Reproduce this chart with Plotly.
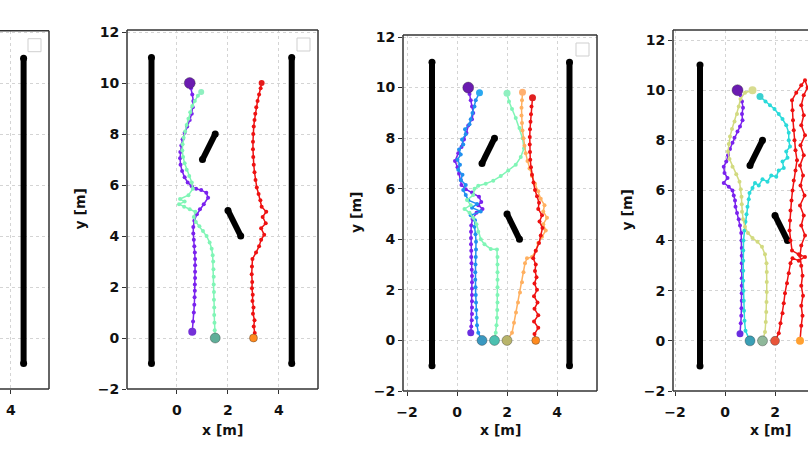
import plotly.graph_objects as go

W, H = 808, 455

# ---------------- environment (shared by all panels) ----------------
wall_left_x = [-1.0, -1.0]
wall_right_x = [4.5, 4.5]
wall_y = [-1.0, 11.0]
obs1_x = [1.0, 1.5]
obs1_y = [7.0, 8.0]
obs2_x = [2.0, 2.5]
obs2_y = [5.0, 4.0]

# ---------------- panel 1 (3 agents) ----------------
p1_purple_x = [0.50, 0.55, 0.60, 0.64, 0.62, 0.58, 0.50, 0.40, 0.30, 0.22, 0.17, 0.13, 0.12, 0.14, 0.20,
               0.30, 0.42, 0.58, 0.75, 0.95, 1.15, 1.22, 1.05, 0.90, 0.78, 0.68, 0.64, 0.64, 0.66, 0.68,
               0.70, 0.71, 0.71, 0.71, 0.71, 0.70, 0.70, 0.69, 0.68, 0.66, 0.63, 0.60]
p1_purple_y = [10.0, 9.8, 9.55, 9.3, 9.05, 8.8, 8.55, 8.3, 8.05, 7.8, 7.55, 7.3, 7.05, 6.8, 6.55,
               6.3, 6.1, 5.95, 5.85, 5.8, 5.7, 5.5, 5.25, 5.05, 4.85, 4.6, 4.35, 4.1, 3.85, 3.6,
               3.35, 3.1, 2.85, 2.6, 2.35, 2.1, 1.85, 1.6, 1.3, 1.0, 0.65, 0.25]
p1_aqua_x = [1.50, 1.48, 1.47, 1.46, 1.46, 1.45, 1.45, 1.44, 1.44, 1.43, 1.42, 1.40, 1.36, 1.28, 1.16,
             1.02, 0.88, 0.74, 0.66, 0.72, 0.50, 0.28, 0.08, 0.30, 0.12, 0.45, 0.62, 0.58, 0.48, 0.38,
             0.30, 0.24, 0.21, 0.22, 0.26, 0.32, 0.38, 0.45, 0.52, 0.60, 0.70, 0.82, 0.95]
p1_aqua_y = [0.0, 0.3, 0.6, 0.9, 1.2, 1.5, 1.8, 2.1, 2.4, 2.7, 3.0, 3.25, 3.5, 3.75, 4.0,
             4.2, 4.38, 4.55, 4.75, 4.95, 5.05, 5.15, 5.25, 5.35, 5.45, 5.6, 5.85, 6.1, 6.35, 6.6,
             6.85, 7.1, 7.35, 7.6, 7.85, 8.1, 8.35, 8.6, 8.85, 9.1, 9.3, 9.5, 9.65]
p1_red_x = [3.00, 3.05, 3.01, 3.04, 2.98, 3.00, 2.96, 2.97, 2.94, 2.95, 2.93, 2.94, 2.96, 3.10, 3.22,
            3.30, 3.42, 3.30, 3.48, 3.36, 3.50, 3.32, 3.27, 3.20, 3.13, 3.08, 3.04, 3.01, 2.99, 2.98,
            2.98, 2.99, 3.01, 3.04, 3.07, 3.11, 3.16, 3.22, 3.28, 3.32]
p1_red_y = [0.0, 0.2, 0.45, 0.7, 0.95, 1.2, 1.45, 1.7, 1.95, 2.2, 2.5, 2.8, 3.1, 3.35, 3.6,
            3.85, 4.05, 4.3, 4.5, 4.75, 4.95, 5.15, 5.4, 5.65, 5.9, 6.2, 6.5, 6.8, 7.1, 7.4,
            7.7, 8.0, 8.3, 8.55, 8.8, 9.05, 9.3, 9.55, 9.8, 10.0]

# ---------------- panel 2 (5 agents) ----------------
p2_purple_x = [0.45, 0.50, 0.55, 0.60, 0.65, 0.60, 0.45, 0.38, 0.28, 0.18, 0.05, -0.08, 0.02, 0.08, 0.15,
               0.18, 0.35, 0.60, 0.88, 0.97, 0.85, 1.02, 0.78, 0.62, 0.57, 0.56, 0.56, 0.56, 0.57, 0.57,
               0.58, 0.59, 0.60, 0.60, 0.60, 0.60, 0.60, 0.60, 0.60, 0.59, 0.57, 0.55]
p2_purple_y = [10.0, 9.75, 9.5, 9.25, 9.0, 8.75, 8.5, 8.2, 7.95, 7.65, 7.4, 7.1, 6.85, 6.6, 6.35,
               6.15, 5.98, 5.85, 5.68, 5.48, 5.35, 5.2, 5.05, 4.8, 4.55, 4.3, 4.05, 3.8, 3.55, 3.3,
               3.05, 2.8, 2.55, 2.3, 2.05, 1.8, 1.55, 1.3, 1.05, 0.8, 0.55, 0.3]
p2_blue_x = [1.00, 0.85, 0.80, 0.78, 0.77, 0.76, 0.75, 0.74, 0.73, 0.73, 0.74, 0.75, 0.76, 0.76, 0.74,
             0.70, 0.72, 0.55, 0.95, 0.60, 0.80, 0.45, 0.35, 0.25, 0.35, 0.15, 0.22, 0.05, 0.12, 0.02,
             0.15, 0.08, 0.25, 0.20, 0.35, 0.32, 0.50, 0.55, 0.62, 0.70, 0.75, 0.90]
p2_blue_y = [0.0, 0.3, 0.6, 0.9, 1.2, 1.5, 1.8, 2.1, 2.4, 2.7, 3.0, 3.3, 3.6, 3.9, 4.2,
             4.5, 4.75, 4.95, 5.1, 5.25, 5.4, 5.55, 5.75, 5.95, 6.15, 6.35, 6.55, 6.75, 6.95, 7.15,
             7.35, 7.55, 7.75, 7.95, 8.15, 8.35, 8.55, 8.75, 9.0, 9.25, 9.5, 9.8]
p2_aqua_x = [1.50, 1.55, 1.58, 1.60, 1.61, 1.62, 1.62, 1.62, 1.62, 1.62, 1.62, 1.62, 1.60, 1.35, 1.10,
             0.95, 0.85, 0.78, 0.65, 0.50, 0.30, 0.55, 0.40, 0.65, 0.70, 0.85, 1.15, 1.45, 1.75, 2.05,
             2.35, 2.55, 2.68, 2.62, 2.50, 2.35, 2.20, 2.08, 2.00]
p2_aqua_y = [0.0, 0.3, 0.6, 0.9, 1.2, 1.5, 1.8, 2.1, 2.4, 2.7, 3.0, 3.3, 3.6, 3.62, 3.8,
             4.0, 4.3, 4.6, 4.85, 5.05, 5.2, 5.35, 5.55, 5.75, 6.0, 6.12, 6.2, 6.32, 6.5, 6.72,
             6.95, 7.25, 7.6, 8.0, 8.4, 8.8, 9.15, 9.45, 9.78]
p2_orange_x = [2.00, 2.20, 2.28, 2.36, 2.44, 2.52, 2.60, 2.66, 2.72, 2.80, 3.00, 3.15, 3.25, 3.40, 3.55,
               3.45, 3.60, 3.45, 3.50, 3.35, 3.25, 3.12, 3.00, 2.90, 2.82, 2.75, 2.70, 2.66, 2.62, 2.60,
               2.58, 2.58, 2.60, 2.62]
p2_orange_y = [0.0, 0.3, 0.7, 1.1, 1.5, 1.9, 2.3, 2.7, 3.05, 3.25, 3.3, 3.55, 3.85, 4.1, 4.35,
               4.6, 4.85, 5.1, 5.35, 5.6, 5.9, 6.2, 6.5, 6.8, 7.1, 7.4, 7.7, 8.0, 8.3, 8.6,
               8.9, 9.2, 9.5, 9.82]
p2_red_x = [3.15, 3.10, 3.25, 3.08, 3.25, 3.10, 3.22, 3.08, 3.20, 3.10, 3.18, 3.12, 3.15, 3.05, 3.15,
            3.28, 3.35, 3.42, 3.30, 3.40, 3.25, 3.28, 3.20, 3.12, 3.06, 3.00, 2.96, 2.93, 2.92, 2.91,
            2.91, 2.92, 2.94, 2.96, 2.98, 3.02]
p2_red_y = [0.0, 0.25, 0.5, 0.75, 1.0, 1.25, 1.5, 1.75, 2.0, 2.25, 2.5, 2.75, 3.0, 3.25, 3.55,
            3.85, 4.15, 4.45, 4.7, 4.95, 5.2, 5.45, 5.7, 5.95, 6.25, 6.55, 6.85, 7.15, 7.45, 7.75,
            8.05, 8.35, 8.65, 8.95, 9.25, 9.6]

# ---------------- panel 3 (4 agents visible) ----------------
p3_purple_x = [0.50, 0.62, 0.68, 0.72, 0.68, 0.70, 0.60, 0.50, 0.38, 0.30, 0.20, 0.12, 0.05, -0.05, -0.02,
               0.10, -0.05, 0.15, 0.30, 0.35, 0.40, 0.42, 0.48, 0.55, 0.60, 0.65, 0.66, 0.67, 0.67, 0.67,
               0.67, 0.67, 0.67, 0.67, 0.67, 0.66, 0.65, 0.63, 0.60]
p3_purple_y = [10.0, 9.8, 9.55, 9.3, 9.05, 8.8, 8.55, 8.35, 8.1, 7.9, 7.65, 7.4, 7.15, 6.95, 6.7,
               6.5, 6.3, 6.15, 6.0, 5.8, 5.6, 5.35, 5.1, 4.85, 4.6, 4.3, 4.0, 3.7, 3.4, 3.1,
               2.8, 2.5, 2.2, 1.9, 1.6, 1.3, 1.0, 0.7, 0.28]
p3_cyan_x = [1.00, 0.82, 0.78, 0.76, 0.75, 0.74, 0.73, 0.73, 0.73, 0.73, 0.74, 0.78, 0.82, 0.86, 0.90,
             0.95, 0.98, 1.10, 1.20, 1.35, 1.50, 1.70, 1.85, 2.05, 2.15, 2.35, 2.30, 2.50, 2.45, 2.60,
             2.55, 2.55, 2.45, 2.30, 2.15, 1.98, 1.80, 1.62, 1.40]
p3_cyan_y = [0.0, 0.4, 0.8, 1.2, 1.6, 2.0, 2.4, 2.8, 3.2, 3.6, 4.0, 4.4, 4.75, 5.05, 5.35,
             5.65, 5.9, 6.1, 6.3, 6.2, 6.45, 6.35, 6.6, 6.55, 6.8, 6.9, 7.15, 7.3, 7.55, 7.75,
             8.0, 8.3, 8.6, 8.85, 9.05, 9.25, 9.4, 9.55, 9.75]
p3_khaki_x = [1.50, 1.60, 1.63, 1.65, 1.66, 1.67, 1.67, 1.67, 1.66, 1.60, 1.48, 1.30, 1.10, 0.92, 0.80,
              0.72, 0.68, 0.67, 0.66, 0.63, 0.58, 0.45, 0.30, 0.18, 0.12, 0.15, 0.20, 0.28, 0.38, 0.48,
              0.55, 0.62, 0.80, 1.10]
p3_khaki_y = [0.0, 0.35, 0.75, 1.15, 1.55, 1.95, 2.35, 2.75, 3.1, 3.45, 3.75, 3.95, 4.1, 4.3, 4.55,
              4.85, 5.15, 5.45, 5.75, 6.05, 6.35, 6.65, 6.95, 7.25, 7.55, 7.85, 8.15, 8.45, 8.75, 9.05,
              9.35, 9.65, 9.9, 10.0]
p3_red_x = [2.00, 2.15, 2.22, 2.30, 2.35, 2.40, 2.48, 2.55, 2.62, 2.70, 2.95, 3.20, 2.95, 2.68, 2.62,
            2.58, 2.60, 2.62, 2.66, 2.70, 2.75, 2.82, 2.88, 2.82, 2.78, 2.75, 2.72, 2.70, 2.68, 2.85,
            3.05, 3.20, 3.30, 3.15, 3.05, 3.15, 3.05, 3.20, 3.02, 3.15, 3.00, 3.12, 3.02, 3.18, 3.00,
            3.15, 3.05, 3.20, 3.05, 3.00, 3.05, 3.10, 3.05, 3.12, 3.05, 3.10, 3.05, 3.00]
p3_red_y = [0.0, 0.3, 0.7, 1.1, 1.5, 1.9, 2.3, 2.7, 3.1, 3.3, 3.2, 3.35, 3.45, 3.6, 4.0,
            4.4, 4.8, 5.2, 5.6, 6.0, 6.4, 6.8, 7.2, 7.6, 8.0, 8.4, 8.8, 9.2, 9.6, 9.9,
            10.2, 10.4, 10.1, 9.8, 9.4, 9.0, 8.6, 8.2, 7.8, 7.4, 7.0, 6.6, 6.2, 5.8, 5.4,
            5.0, 4.6, 4.2, 3.8, 3.4, 3.0, 2.6, 2.2, 1.8, 1.4, 1.0, 0.6, 0.0]

# agent tables: (x, y, path colour, start colour, start size, end colour, end size)
panel_agents = [
    [],
    [
        (p1_purple_x, p1_purple_y, "#7a22ee", "#6a1bb0", 11, "#7430d8", 8),
        (p1_aqua_x, p1_aqua_y, "#80f5b6", "#5fae98", 10, "#8ff0c0", 6),
        (p1_red_x, p1_red_y, "#ee1111", "#ff8a1e", 8, "#e41c1c", 6),
    ],
    [
        (p2_purple_x, p2_purple_y, "#7a22ee", "#6a1bb0", 11, "#6a2ee0", 7),
        (p2_blue_x, p2_blue_y, "#2090ef", "#3a98c0", 10, "#2aa8f0", 7),
        (p2_aqua_x, p2_aqua_y, "#80f5b6", "#4cc0b0", 10, "#90f0c0", 7),
        (p2_orange_x, p2_orange_y, "#ffb060", "#b8b46a", 10, "#ffb070", 7),
        (p2_red_x, p2_red_y, "#ee1111", "#ff8a1e", 8, "#e02020", 7),
    ],
    [
        (p3_purple_x, p3_purple_y, "#7a22ee", "#6a1bb0", 11, "#6a2ee0", 7),
        (p3_cyan_x, p3_cyan_y, "#2adada", "#3a9fb5", 10, "#3ad0d0", 7),
        (p3_khaki_x, p3_khaki_y, "#d2da80", "#8fb89a", 10, "#d8dc90", 8),
        (p3_red_x, p3_red_y, "#ee1111", "#e8553a", 9, "#ffa030", 8),
    ],
]

# panel geometry in pixels (left, right, top, bottom), axis ranges, frame sides
panels = [
    dict(box=(0, 49, 30.7, 389), xr=[3.57, 5.50], yr=[-2, 12.08], sides="trb", ylab=False, cx=None, legend=True),
    dict(box=(127, 318, 30, 389), xr=[-1.96, 5.53], yr=[-2, 12.08], sides="ltrb", ylab=True, cx=222.5, legend=True),
    dict(box=(403, 597, 35, 391), xr=[-2.16, 5.60], yr=[-2, 12.08], sides="ltrb", ylab=True, cx=500, legend=True),
    dict(box=(673, 808, 30, 391), xr=[-2.08, 3.32], yr=[-2, 12.40], sides="ltb", ylab=True, cx=770, legend=False),
]

FONT = dict(family="DejaVu Sans", size=14, color="#111111", weight="bold")

fig = go.Figure()
shapes = []
annotations = []

for i, p in enumerate(panels):
    n = "" if i == 0 else str(i + 1)
    xa, ya = "x" + n, "y" + n
    L, R, T, B = p["box"]

    def wall(xs, ys, width=6):
        fig.add_trace(go.Scatter(x=xs, y=ys, mode="lines+markers", xaxis=xa, yaxis=ya,
                                 line=dict(color="black", width=width),
                                 marker=dict(color="black", size=width + 1),
                                 hoverinfo="skip", showlegend=False))

    wall(wall_left_x, wall_y)
    wall(wall_right_x, wall_y)
    wall(obs1_x, obs1_y)
    wall(obs2_x, obs2_y)

    for (xs, ys, col, scol, ssize, ecol, esize) in panel_agents[i]:
        fig.add_trace(go.Scatter(x=xs, y=ys, mode="lines+markers", xaxis=xa, yaxis=ya,
                                 line=dict(color=col, width=1.5),
                                 marker=dict(color=col, size=4),
                                 showlegend=False))
        fig.add_trace(go.Scatter(x=[xs[-1]], y=[ys[-1]], mode="markers", xaxis=xa, yaxis=ya,
                                 marker=dict(color=ecol, size=esize), showlegend=False))
        fig.add_trace(go.Scatter(x=[xs[0]], y=[ys[0]], mode="markers", xaxis=xa, yaxis=ya,
                                 marker=dict(color=scol, size=ssize,
                                             line=dict(color="rgba(40,40,40,0.35)", width=1)),
                                 showlegend=False))

    common = dict(showgrid=True, gridcolor="#d4d4d4", griddash="dot", gridwidth=1,
                  zeroline=False, showline=False, ticks="outside", ticklen=4, tickwidth=1.2,
                  tickcolor="#333333", tickfont=FONT, dtick=2, tick0=0, automargin=False,
                  fixedrange=True)
    fig.update_layout(**{
        ("xaxis" + n): dict(common, domain=[L / W, R / W], range=p["xr"], anchor=ya,
                            ticklabelstandoff=4),
        ("yaxis" + n): dict(common, domain=[1 - B / H, 1 - T / H], range=p["yr"], anchor=xa,
                            showticklabels=p["ylab"], ticks="outside" if p["ylab"] else ""),
    })

    xd = f"{xa} domain"
    yd = f"{ya} domain"
    seg = {"l": (0, 0, 0, 1), "r": (1, 0, 1, 1), "t": (0, 1, 1, 1), "b": (0, 0, 1, 0)}
    for s in p["sides"]:
        x0, y0, x1, y1 = seg[s]
        shapes.append(dict(type="line", xref=xd, yref=yd, x0=x0, y0=y0, x1=x1, y1=y1,
                           line=dict(color="#333333", width=1.5), layer="above"))
    if p["legend"]:
        w, h = R - L, B - T
        shapes.append(dict(type="rect", xref=xd, yref=yd,
                           x0=1 - 21 / w, x1=1 - 8 / w, y0=1 - 21 / h, y1=1 - 8 / h,
                           line=dict(color="#cfcfcf", width=1), fillcolor="white", layer="above"))
    if p["cx"] is not None:
        annotations.append(dict(text="x [m]", xref="paper", yref="paper", x=p["cx"] / W,
                                y=1 - 430 / H, showarrow=False, font=FONT,
                                xanchor="center", yanchor="middle"))
    if p["ylab"]:
        annotations.append(dict(text="y [m]", xref="paper", yref="paper", x=(L - 47) / W,
                                y=1 - ((T + B) / 2) / H, showarrow=False, font=FONT,
                                textangle=-90, xanchor="center", yanchor="middle"))

fig.update_layout(width=W, height=H, margin=dict(l=0, r=0, t=0, b=0),
                  paper_bgcolor="white", plot_bgcolor="white", showlegend=False,
                  shapes=shapes, annotations=annotations)

fig.write_html("out.html")
